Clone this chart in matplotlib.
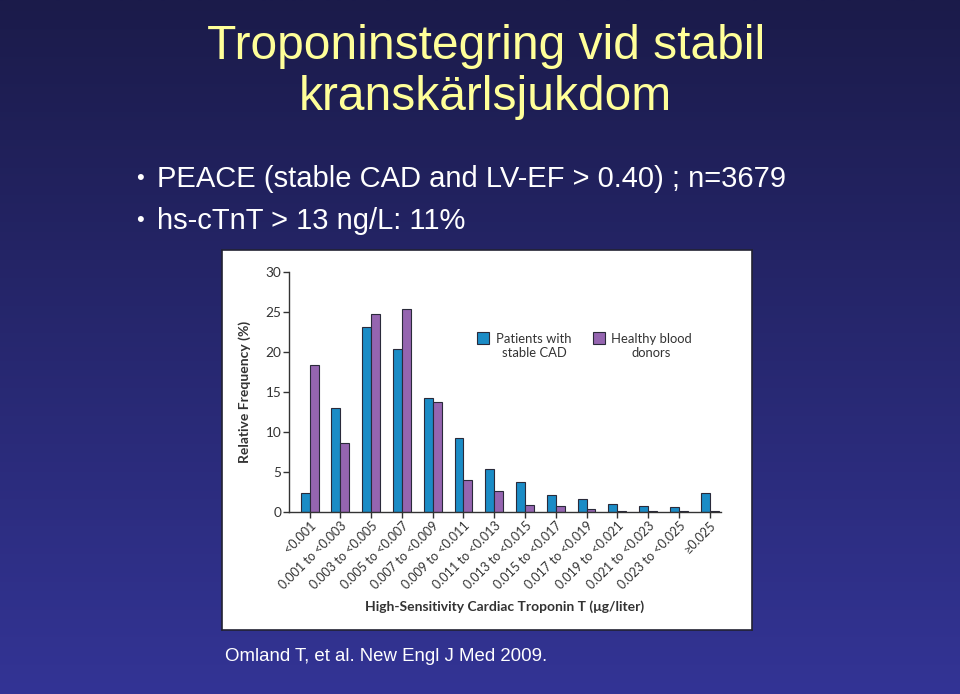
import numpy as np
import matplotlib
matplotlib.use("Agg")
import matplotlib.pyplot as plt
import matplotlib.transforms as mtransforms
from matplotlib.patches import Rectangle

# data
categories = ["<0.001", "0.001 to <0.003", "0.003 to <0.005", "0.005 to <0.007",
              "0.007 to <0.009", "0.009 to <0.011", "0.011 to <0.013", "0.013 to <0.015",
              "0.015 to <0.017", "0.017 to <0.019", "0.019 to <0.021", "0.021 to <0.023",
              "0.023 to <0.025", "\u22650.025"]
cad = [2.4, 13.0, 23.1, 20.3, 14.2, 9.2, 5.3, 3.75, 2.1, 1.65, 0.95, 0.75, 0.6, 2.3]
donors = [18.3, 8.6, 24.7, 25.3, 13.7, 4.0, 2.6, 0.85, 0.75, 0.4, 0.15, 0.15, 0.05, 0.1]
yticks = [0, 5, 10, 15, 20, 25, 30]

BLUE = "#1b8cc6"
PURPLE = "#9565b0"
EDGE = "#2a2a3a"
INK = "#333333"
CHART_FONT = "Lato"
SLIDE_FONT = "Liberation Sans"

fig = plt.figure(figsize=(9.6, 6.94), dpi=100)

# slide background gradient (dark navy at top -> blue at bottom)
bg = fig.add_axes([0, 0, 1, 1])
grad = np.linspace(0, 1, 256).reshape(-1, 1)
cmap = matplotlib.colors.LinearSegmentedColormap.from_list("slide", ["#1b1b4a", "#333495"])
bg.imshow(grad, aspect="auto", cmap=cmap, extent=[0, 1, 0, 1], origin="upper")
bg.set_xlim(0, 1)
bg.set_ylim(0, 1)
bg.axis("off")

# slide text
fig.text(0.506, 0.915, "Troponinstegring vid stabil", color="#ffff99",
         fontsize=34.5, family=SLIDE_FONT, ha="center", va="baseline")
fig.text(0.506, 0.8415, "kranskärlsjukdom", color="#ffff99",
         fontsize=34.5, family=SLIDE_FONT, ha="center", va="baseline")
for yb, line in [(0.7305, "PEACE (stable CAD and LV-EF > 0.40) ; n=3679"),
                 (0.6705, "hs-cTnT > 13 ng/L: 11%")]:
    fig.text(0.1415, yb + 0.012, "\u2022", color="white", fontsize=16, family=SLIDE_FONT,
             ha="left", va="center")
    fig.text(0.1635, yb, line, color="white", fontsize=21, family=SLIDE_FONT,
             ha="left", va="baseline")
fig.text(0.234, 0.0476, "Omland T, et al. New Engl J Med 2009.", color="white",
         fontsize=13.4, family=SLIDE_FONT, ha="left", va="baseline")

# white figure panel
panel = fig.add_axes([222 / 960, 1 - 630 / 694, 530 / 960, 380 / 694])
panel.set_xticks([])
panel.set_yticks([])
panel.set_facecolor("white")
for s in panel.spines.values():
    s.set_color("#222233")
    s.set_linewidth(1.2)

ax = fig.add_axes([289 / 960, 1 - 511.7 / 694, 432 / 960, 240 / 694])
ax.patch.set_alpha(0)
x = np.arange(len(categories))
w = 0.29
ax.bar(x - w / 2, cad, w, color=BLUE, edgecolor=EDGE, linewidth=0.8)
ax.bar(x + w / 2, donors, w, color=PURPLE, edgecolor=EDGE, linewidth=0.8)
ax.set_xlim(-0.67, 13.37)
ax.set_ylim(0, 30)
ax.set_yticks(yticks)
ax.set_yticklabels([str(t) for t in yticks], fontsize=9.8, family=CHART_FONT, color=INK)
ax.set_xticks(x)
ax.set_xticklabels(categories, rotation=45, ha="right", rotation_mode="anchor",
                   fontsize=9.1, family=CHART_FONT, color=INK)
shift = mtransforms.ScaledTranslation(5 / 72, -2 / 72, fig.dpi_scale_trans)
for lab in ax.get_xticklabels():
    lab.set_transform(lab.get_transform() + shift)
ax.spines["top"].set_visible(False)
ax.spines["right"].set_visible(False)
for s in ("left", "bottom"):
    ax.spines[s].set_color(INK)
    ax.spines[s].set_linewidth(1.0)
ax.tick_params(axis="both", direction="out", length=4, width=1.0, color=INK, pad=1.5)
ax.set_ylabel("Relative Frequency (%)", fontsize=10, family=CHART_FONT,
              fontweight="bold", color=INK)
ax.yaxis.set_label_coords(-0.088, 0.5)
ax.set_xlabel("High-Sensitivity Cardiac Troponin T (\u03bcg/liter)", fontsize=10,
              family=CHART_FONT, fontweight="bold", color=INK)
ax.xaxis.set_label_coords(0.5, -0.37)

# legend drawn in axes coordinates
legend_items = [(BLUE, 0.436, 0.567, ["Patients with", "stable CAD"]),
                (PURPLE, 0.703, 0.838, ["Healthy blood", "donors"])]
for color, sx, tx, lines in legend_items:
    ax.add_patch(Rectangle((sx, 0.699), 0.028, 0.05, transform=ax.transAxes,
                           facecolor=color, edgecolor=EDGE, linewidth=0.8, clip_on=False))
    for ty, txt in zip([0.703, 0.645], lines):
        ax.text(tx, ty, txt, transform=ax.transAxes, ha="center", va="baseline",
                fontsize=9.4, family=CHART_FONT, color=INK)

fig.savefig("out.png", dpi=100)
